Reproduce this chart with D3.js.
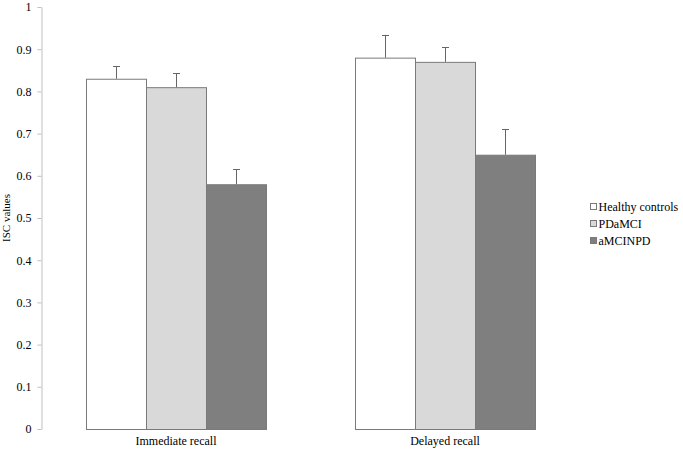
<!DOCTYPE html>
<html>
<head>
<meta charset="utf-8">
<script src="https://cdn.jsdelivr.net/npm/d3@7"></script>
<style>
  body { margin: 0; background: #fff; }
</style>
</head>
<body>
<div id="chart"></div>
<script>
const categories = ["Immediate recall", "Delayed recall"];
const groups = ["Healthy controls", "PDaMCI", "aMCINPD"];
const means = [
  [0.83, 0.81, 0.58],
  [0.88, 0.87, 0.65]
];
const errors = [
  [0.03, 0.033, 0.036],
  [0.054, 0.035, 0.061]
];
const yTicks = [0, 0.1, 0.2, 0.3, 0.4, 0.5, 0.6, 0.7, 0.8, 0.9, 1];
const fills = ["#ffffff", "#d9d9d9", "#7f7f7f"];

const width = 683, height = 452;
const margin = { top: 7, right: 103.5, bottom: 23, left: 41.5 };
const serif = "'Liberation Serif', 'Times New Roman', Times, serif";

const svg = d3.select("#chart").append("svg")
  .attr("width", width)
  .attr("height", height)
  .style("font-family", serif);

const y = d3.scaleLinear().domain([0, 1]).range([height - margin.bottom, margin.top]);
const x0 = d3.scaleBand().domain(categories).range([margin.left, width - margin.right]);
const x1 = d3.scaleBand().domain(groups).range([0, 180]);
const groupOffset = (x0.bandwidth() - 180) / 2;

// y axis
const yAxis = svg.append("g")
  .attr("transform", `translate(${margin.left},0)`)
  .call(d3.axisLeft(y).tickValues(yTicks).tickFormat(d3.format("")).tickSize(4).tickSizeOuter(0));
yAxis.attr("font-family", null);
yAxis.select(".domain").attr("stroke", "#bfbfbf");
yAxis.selectAll(".tick line").attr("stroke", "#bfbfbf");
yAxis.selectAll(".tick text")
  .attr("x", -10)
  .attr("fill", "#000")
  .style("font-family", serif)
  .style("font-size", "12px");

svg.append("text")
  .attr("transform", `translate(10,${(margin.top + height - margin.bottom) / 2}) rotate(-90)`)
  .attr("text-anchor", "middle")
  .style("font-family", serif)
  .style("font-size", "11px")
  .text("ISC values");

// bars
const cat = svg.selectAll(".cat")
  .data(categories)
  .enter().append("g")
  .attr("class", "cat")
  .attr("transform", d => `translate(${x0(d) + groupOffset},0)`);

const rows = (d, i) => groups.map((g, j) => ({ g, j, v: means[i][j], e: errors[i][j] }));

cat.selectAll("rect")
  .data(rows)
  .enter().append("rect")
  .attr("x", d => x1(d.g) + 0.5)
  .attr("y", d => y(d.v) + 0.5)
  .attr("width", x1.bandwidth())
  .attr("height", d => y(0) - y(d.v))
  .attr("fill", d => fills[d.j])
  .attr("stroke", "#7a7a7a")
  .attr("stroke-width", 1);

// error bars (upper only)
const eb = cat.selectAll(".err")
  .data(rows)
  .enter().append("g")
  .attr("class", "err")
  .attr("stroke", "#666")
  .attr("stroke-width", 1);
eb.append("line")
  .attr("x1", d => x1(d.g) + x1.bandwidth() / 2 + 0.5)
  .attr("x2", d => x1(d.g) + x1.bandwidth() / 2 + 0.5)
  .attr("y1", d => y(d.v))
  .attr("y2", d => y(d.v + d.e));
eb.append("line")
  .attr("x1", d => x1(d.g) + x1.bandwidth() / 2 - 3)
  .attr("x2", d => x1(d.g) + x1.bandwidth() / 2 + 4)
  .attr("y1", d => Math.round(y(d.v + d.e)) + 0.5)
  .attr("y2", d => Math.round(y(d.v + d.e)) + 0.5);

// category labels
svg.selectAll(".catlabel")
  .data(categories)
  .enter().append("text")
  .attr("x", d => x0(d) + x0.bandwidth() / 2)
  .attr("y", height - margin.bottom + 16)
  .attr("text-anchor", "middle")
  .style("font-family", serif)
  .style("font-size", "12px")
  .text(d => d);

// legend
const legend = svg.selectAll(".legend")
  .data(groups)
  .enter().append("g")
  .attr("transform", (d, i) => `translate(590.5,${203.5 + i * 17})`);
legend.append("rect")
  .attr("width", 6)
  .attr("height", 6)
  .attr("fill", (d, i) => fills[i])
  .attr("stroke", "#7a7a7a");
legend.append("text")
  .attr("x", 8)
  .attr("y", 7)
  .style("font-family", serif)
  .style("font-size", "12px")
  .text(d => d);
</script>
</body>
</html>
